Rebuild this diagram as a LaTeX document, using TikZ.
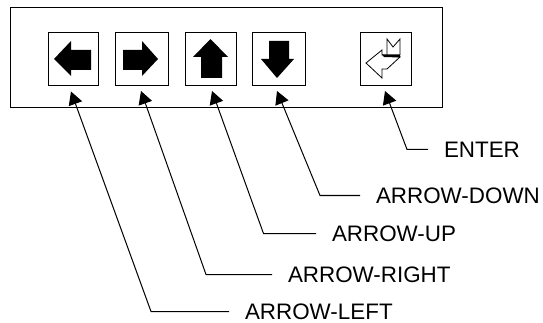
\documentclass[tikz,border=0pt]{standalone}
\usepackage{fontspec}
\setmainfont{Liberation Sans}
\usetikzlibrary{arrows.meta}
\tikzset{
	panelbox/.style={draw,line width=1pt,minimum width=432.5pt,minimum height=99.5pt,inner sep=0pt},
	keybox/.style={draw,line width=1pt,minimum height=53pt,inner sep=0pt},
	keylabel/.style={anchor=west,inner sep=0pt,outer xsep=16pt,outer ysep=0pt,font=\fontsize{22.4}{26}\selectfont},
	leader/.style={line width=1pt,-{Triangle[length=13pt,width=14pt]}}
}
\begin{document}
\begin{tikzpicture}[line cap=butt,line join=miter,x=1pt,y=-1pt]
	\useasboundingbox (0,0) rectangle (543,323);
	\node[panelbox] (panel) at (226.25,57.75) {};
	\node[keybox,minimum width=50.5pt] (keyleft) at (73.25,59.5) {};
	\node[keybox,minimum width=53pt] (keyright) at (141.5,59.5) {};
	\node[keybox,minimum width=51pt] (keyup) at (210.5,59.5) {};
	\node[keybox,minimum width=53.5pt] (keydown) at (278.75,59.5) {};
	\node[keybox,minimum width=51pt] (keyenter) at (385.5,59.5) {};
	% key symbols
	\fill (54,59) -- (71,41) -- (71,50) -- (91,50) -- (91,70) -- (71,70) -- (71,76) -- cycle;
	\fill (158,59) -- (142,41) -- (142,50) -- (123,50) -- (123,70) -- (142,70) -- (142,76) -- cycle;
	\fill (210.5,39) -- (193,57) -- (201,57) -- (201,78) -- (222,78) -- (222,57) -- (228,57) -- cycle;
	\fill (277,78) -- (261,59) -- (269,59) -- (269,41) -- (289,41) -- (289,59) -- (294,59) -- cycle;
	\draw [line width=0.8pt] (366,63) -- (382,50) -- (382,55) -- (400,57) -- (387,69) -- (382,69) -- (382,78) -- cycle;
	\draw [line width=0.8pt] (387,55) -- (387,39) -- (393,47) -- (400,39) -- (400,55);
	\fill (382,54.5) -- (400,54.5) -- (400,57.5) -- (384,57) -- cycle;
	% labels
	\node[keylabel] (lblleft) at (229,311.5) {ARROW-LEFT};
	\node[keylabel] (lblright) at (272,274.5) {ARROW-RIGHT};
	\node[keylabel] (lblup) at (316,233.5) {ARROW-UP};
	\node[keylabel] (lbldown) at (360,195.5) {ARROW-DOWN};
	\node[keylabel] (lblenter) at (428,149.5) {ENTER};
	% leaders
	\coordinate (bendleft) at (151,311.5);
	\coordinate (bendright) at (206,274.5);
	\coordinate (bendup) at (263.5,233.5);
	\coordinate (benddown) at (320,195.5);
	\coordinate (bendenter) at (407,149.5);
	\coordinate (tipleft) at (71,91.5);
	\coordinate (tipright) at (141,91);
	\coordinate (tipup) at (212,91);
	\coordinate (tipdown) at (277,91);
	\coordinate (tipenter) at (385,91);
	\draw[leader] (lblleft.west) -- (bendleft) -- (tipleft);
	\draw[leader] (lblright.west) -- (bendright) -- (tipright);
	\draw[leader] (lblup.west) -- (bendup) -- (tipup);
	\draw[leader] (lbldown.west) -- (benddown) -- (tipdown);
	\draw[leader] (lblenter.west) -- (bendenter) -- (tipenter);
\end{tikzpicture}
\end{document}
